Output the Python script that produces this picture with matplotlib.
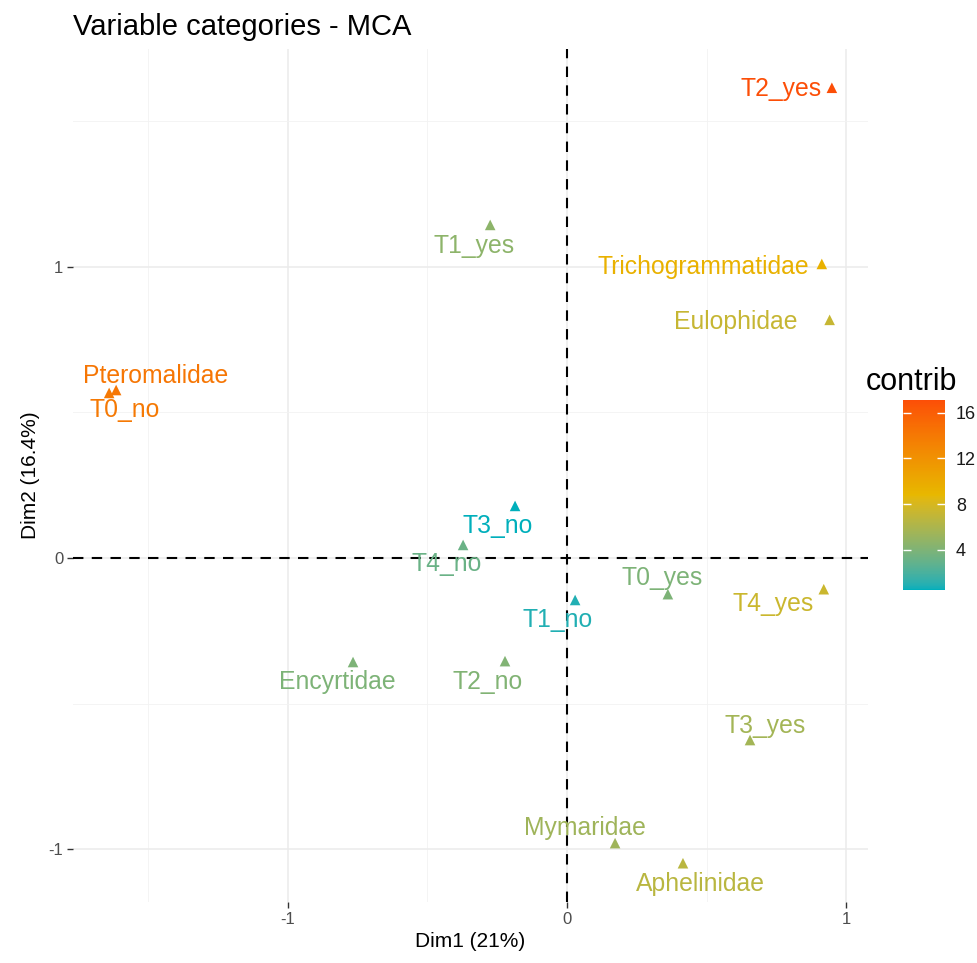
import numpy as np
import matplotlib
matplotlib.use("Agg")
import matplotlib.pyplot as plt
from matplotlib.colors import ListedColormap, Normalize, to_rgb
from matplotlib.cm import ScalarMappable

plt.rcParams['font.family'] = ['Liberation Sans', 'DejaVu Sans']
plt.rcParams['axes.unicode_minus'] = False

# categorias del MCA
names = ["T2_yes", "Trichogrammatidae", "Eulophidae", "Pteromalidae", "T0_no",
         "T1_yes", "T3_no", "T4_no", "T1_no", "T0_yes", "T4_yes",
         "Encyrtidae", "T2_no", "T3_yes", "Mymaridae", "Aphelinidae"]
dim1 = [0.948, 0.912, 0.940, -1.614, -1.639,
        -0.275, -0.186, -0.372, 0.029, 0.361, 0.919,
        -0.766, -0.222, 0.655, 0.172, 0.415]
dim2 = [1.615, 1.010, 0.818, 0.577, 0.567,
        1.144, 0.179, 0.045, -0.144, -0.124, -0.107,
        -0.357, -0.354, -0.625, -0.979, -1.048]
contrib = [17.1, 9.4, 7.2, 14.2, 14.0,
           4.6, 0.5, 3.2, 0.9, 4.0, 7.4,
           4.0, 4.1, 5.6, 5.4, 6.6]

# desplazamiento de las etiquetas (pixeles, x a la derecha, y hacia abajo)
lab_dx = [-51, -118, -94, 40, 16, -16, -17, -16, -17, -6, -51, -16, -17, 15, -30, 17]
lab_dy = [1, 3, 2, -14, 17, 21, 20, 19, 20, -16, 15, 20, 21, -14, -15, 21]

grad_cols = ["#00AFBB", "#E7B800", "#FC4E07"]


################## interpolacion de colores ##################

def srgb_to_lab(c):
    c = np.asarray(c, dtype=float)
    lin = np.where(c <= 0.04045, c / 12.92, ((c + 0.055) / 1.055) ** 2.4)
    M = np.array([[0.4124, 0.3576, 0.1805],
                  [0.2126, 0.7152, 0.0722],
                  [0.0193, 0.1192, 0.9505]])
    xyz = M @ lin / np.array([0.95047, 1.0, 1.08883])
    f = np.where(xyz > 0.008856, np.cbrt(xyz), 7.787 * xyz + 16 / 116)
    return np.array([116 * f[1] - 16, 500 * (f[0] - f[1]), 200 * (f[1] - f[2])])


def lab_to_srgb(lab):
    L, a, b = lab
    fy = (L + 16) / 116
    fx = fy + a / 500
    fz = fy - b / 200
    f = np.array([fx, fy, fz])
    xyz = np.where(f ** 3 > 0.008856, f ** 3, (f - 16 / 116) / 7.787)
    xyz = xyz * np.array([0.95047, 1.0, 1.08883])
    Minv = np.array([[3.2406, -1.5372, -0.4986],
                     [-0.9689, 1.8758, 0.0415],
                     [0.0557, -0.2040, 1.0570]])
    lin = Minv @ xyz
    c = np.where(lin <= 0.0031308, 12.92 * lin, 1.055 * np.clip(lin, 0, None) ** (1 / 2.4) - 0.055)
    return np.clip(c, 0, 1)


def mixed_cmap(colors, n=256, w_lab=0.5):
    # mezcla entre interpolacion Lab y RGB
    rgbs = [np.array(to_rgb(c)) for c in colors]
    labs = [srgb_to_lab(c) for c in rgbs]
    pos = np.linspace(0, 1, len(colors))
    out = []
    for t in np.linspace(0, 1, n):
        k = min(np.searchsorted(pos, t, side='right') - 1, len(colors) - 2)
        u = (t - pos[k]) / (pos[k + 1] - pos[k])
        c_lab = lab_to_srgb(labs[k] * (1 - u) + labs[k + 1] * u)
        c_rgb = rgbs[k] * (1 - u) + rgbs[k + 1] * u
        out.append(w_lab * c_lab + (1 - w_lab) * c_rgb)
    return ListedColormap(out)


cmap = mixed_cmap(grad_cols)
norm = Normalize(vmin=min(contrib), vmax=max(contrib))

W, H = 978, 963
fig = plt.figure(figsize=(W / 100, H / 100), dpi=100)

# limites con expansion del 5% como ggplot
xr = max(dim1) - min(dim1)
yr = max(dim2) - min(dim2)
xlim = (min(dim1) - 0.05 * xr, max(dim1) + 0.05 * xr)
ylim = (min(dim2) - 0.05 * yr, max(dim2) + 0.05 * yr)

ax_l, ax_r, ax_t, ax_b = 73, 868, 49, 902
ax = fig.add_axes([ax_l / W, 1 - ax_b / H, (ax_r - ax_l) / W, (ax_b - ax_t) / H])
ax.set_xlim(xlim)
ax.set_ylim(ylim)

for s in ax.spines.values():
    s.set_visible(False)

ax.set_xticks([-1, 0, 1])
ax.set_yticks([-1, 0, 1])
ax.set_xticks([-1.5, -0.5, 0.5], minor=True)
ax.set_yticks([-0.5, 0.5, 1.5], minor=True)
ax.grid(which='major', color='#EBEBEB', linewidth=1.1)
ax.grid(which='minor', color='#F2F2F2', linewidth=0.6)
ax.set_axisbelow(True)
ax.tick_params(which='major', length=4, width=1, color='#333333', labelsize=12,
               labelcolor='#4D4D4D', pad=3)
ax.tick_params(which='minor', length=0)

ax.axhline(0, color='black', linewidth=1.5, dashes=(5, 4))
ax.axvline(0, color='black', linewidth=1.5, dashes=(5, 4))

cols = cmap(norm(np.array(contrib)))
ax.scatter(dim1, dim2, marker='^', s=58, c=cols, linewidths=0, zorder=3)

for i in range(len(names)):
    ax.annotate(names[i], (dim1[i], dim2[i]), xytext=(lab_dx[i], -lab_dy[i]),
                textcoords='offset pixels', ha='center', va='center',
                fontsize=17.8, color=cols[i], zorder=4)

ax.set_xlabel("Dim1 (21%)", fontsize=15, labelpad=4)
ax.set_ylabel("Dim2 (16.4%)", fontsize=15, labelpad=6)
fig.text(73 / W, 1 - 27 / H, "Variable categories - MCA", fontsize=21,
         ha='left', va='center')

# barra de color
cax = fig.add_axes([903 / W, 1 - 590 / H, 42 / W, 190 / H])
cb = fig.colorbar(ScalarMappable(norm=norm, cmap=cmap), cax=cax, ticks=[4, 8, 12, 16])
cb.outline.set_visible(False)
cax.tick_params(left=True, right=True, direction='in', color='white', length=6,
                width=1, labelsize=13, labelcolor='#1A1A1A')
cax.yaxis.set_tick_params(pad=8)
fig.text(866 / W, 1 - 382 / H, "contrib", fontsize=22, ha='left', va='center')

fig.savefig("out.png", dpi=100)
